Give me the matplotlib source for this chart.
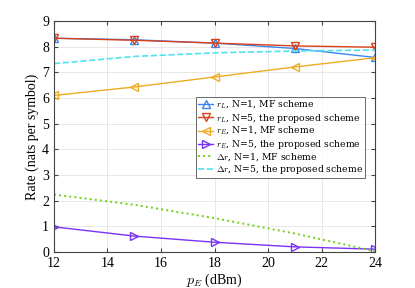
import numpy as np
import matplotlib.pyplot as plt

plt.rcParams['font.family'] = ['Liberation Serif', 'DejaVu Serif']
plt.rcParams['mathtext.fontset'] = 'cm'

# datos
pE = [12, 15, 18, 21, 24]
rL_mf = [8.33, 8.27, 8.14, 7.93, 7.58]
rL_prop = [8.33, 8.25, 8.14, 8.03, 7.98]
rE_mf = [6.10, 6.43, 6.82, 7.21, 7.57]
rE_prop = [0.98, 0.62, 0.38, 0.20, 0.11]
dr_mf = [2.24, 1.84, 1.32, 0.72, 0.03]
dr_prop = [7.34, 7.62, 7.76, 7.83, 7.87]

labels = [r'$r_L$, N=1, MF scheme',
          r'$r_L$, N=5, the proposed scheme',
          r'$r_E$, N=1, MF scheme',
          r'$r_E$, N=5, the proposed scheme',
          r'$\Delta r$, N=1, MF scheme',
          r'$\Delta r$, N=5, the proposed scheme']

fig = plt.figure(figsize=(4.15, 2.88), dpi=100)
ax = fig.add_axes([0.130, 0.125, 0.774, 0.802])

ax.plot(pE, rL_mf, color='#3d86f0', marker='^', mfc='none', ms=6, lw=1.0, label=labels[0])
ax.plot(pE, rL_prop, color='#d9401a', marker='v', mfc='none', ms=6, lw=1.0, label=labels[1])
ax.plot(pE, rE_mf, color='#edac22', marker='<', mfc='none', ms=6, lw=1.0, label=labels[2])
ax.plot(pE, rE_prop, color='#7a33f5', marker='>', mfc='none', ms=6, lw=1.0, label=labels[3])
ax.plot(pE, dr_mf, color='#6fd012', ls=':', lw=1.4, label=labels[4])
ax.plot(pE, dr_prop, color='#4fe3ee', ls='--', lw=1.2, label=labels[5])

ax.set_xlim(12, 24)
ax.set_ylim(0, 9)
ax.set_xticks(range(12, 25, 2))
ax.set_yticks(range(0, 10))
ax.grid(True, color='#e4e4e4', lw=0.6)
ax.tick_params(direction='in', length=3, labelsize=10, color='#444444', top=True, right=True)
for s in ax.spines.values():
    s.set_color('#444444')
    s.set_linewidth(0.8)

ax.set_xlabel(r'$p_E$ (dBm)', fontsize=10, labelpad=1)
ax.set_ylabel('Rate (nats per symbol)', fontsize=10, labelpad=2)

leg = ax.legend(loc='upper left', bbox_to_anchor=(0.443, 0.67),
                prop={'family': 'DejaVu Serif', 'size': 6.7},
                fancybox=False, edgecolor='#444444', handlelength=1.6,
                handletextpad=0.3, labelspacing=0.05, borderpad=0.2, borderaxespad=0)
leg.get_frame().set_linewidth(0.7)

fig.savefig('out.png', dpi=100)
